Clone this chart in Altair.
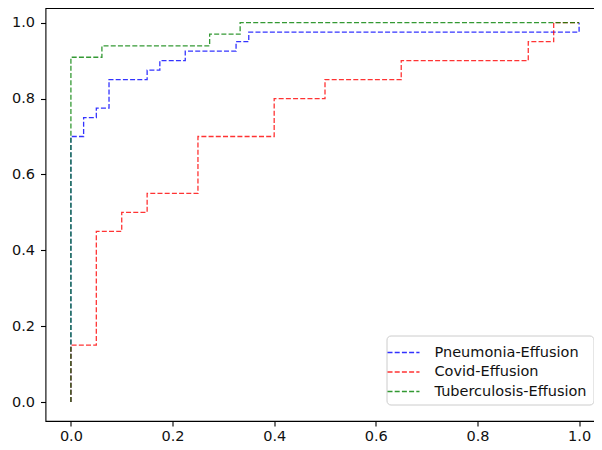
import altair as alt
import pandas as pd

series_names = ["Pneumonia-Effusion", "Covid-Effusion", "Tuberculosis-Effusion"]
series_colors = ["#0000ff", "#ff0000", "#008000"]

pneumonia_fpr = [0, 0, 0.025, 0.025, 0.05, 0.05, 0.075, 0.075, 0.15, 0.15, 0.175, 0.175,
                 0.225, 0.225, 0.325, 0.325, 0.35, 0.35, 1.0, 1.0]
pneumonia_tpr = [0, 0.7, 0.7, 0.75, 0.75, 0.775, 0.775, 0.85, 0.85, 0.875, 0.875, 0.9,
                 0.9, 0.925, 0.925, 0.95, 0.95, 0.975, 0.975, 1.0]

covid_fpr = [0, 0, 0.05, 0.05, 0.10, 0.10, 0.15, 0.15, 0.25, 0.25, 0.40, 0.40, 0.50, 0.50,
             0.65, 0.65, 0.90, 0.90, 0.95, 0.95, 1.0]
covid_tpr = [0, 0.15, 0.15, 0.45, 0.45, 0.5, 0.5, 0.55, 0.55, 0.7, 0.7, 0.8, 0.8, 0.85,
             0.85, 0.9, 0.9, 0.95, 0.95, 1.0, 1.0]

tb_fpr = [0, 0, 0.061, 0.061, 0.273, 0.273, 0.333, 0.333, 1.0]
tb_tpr = [0, 0.909, 0.909, 0.939, 0.939, 0.970, 0.970, 1.0, 1.0]

tick_values = [0.0, 0.2, 0.4, 0.6, 0.8, 1.0]

rows = []
for name, fx, ty in zip(series_names,
                        [pneumonia_fpr, covid_fpr, tb_fpr],
                        [pneumonia_tpr, covid_tpr, tb_tpr]):
    for i, (a, b) in enumerate(zip(fx, ty)):
        rows.append({"series": name, "fpr": a, "tpr": b, "idx": i})
df = pd.DataFrame(rows)

FONT = "DejaVu Sans"

axis_common = dict(values=tick_values, format=".1f", title=None, grid=False,
                   labelFont=FONT, labelFontSize=14.5, labelColor="#111111",
                   tickSize=5, tickWidth=1.1, tickColor="black",
                   domain=False, labelFlush=False)

chart = alt.Chart(df).mark_line(strokeWidth=1.3, strokeDash=[5, 2.2], opacity=0.8).encode(
    x=alt.X("fpr:Q", scale=alt.Scale(domain=[-0.05, 1.05], nice=False, zero=False),
            axis=alt.Axis(labelPadding=3, **axis_common)),
    y=alt.Y("tpr:Q", scale=alt.Scale(domain=[-0.05, 1.0388], nice=False, zero=False),
            axis=alt.Axis(labelPadding=6, **axis_common)),
    color=alt.Color("series:N",
                    scale=alt.Scale(domain=series_names, range=series_colors),
                    legend=alt.Legend(orient="none", legendX=341, legendY=327.5, title=None,
                                      symbolType="M-1.6,0H1.6", symbolSize=400,
                                      symbolStrokeWidth=1.3, symbolDash=[5, 2.2],
                                      symbolOpacity=0.8,
                                      labelFont=FONT, labelFontSize=14.5, labelColor="#111111",
                                      strokeColor="#cccccc", fillColor="rgba(255,255,255,0.8)",
                                      cornerRadius=4, padding=6, rowPadding=1.5,
                                      labelOffset=20)),
    order="idx:Q",
).properties(
    width=559, height=413,
    padding={"left": 37.5, "top": 0, "right": -10.5, "bottom": 21},
    autosize=alt.AutoSizeParams(type="none"),
).configure_view(stroke="black", strokeWidth=1.1)

chart.save("out.html", embed_options={"renderer": "svg", "actions": False})
